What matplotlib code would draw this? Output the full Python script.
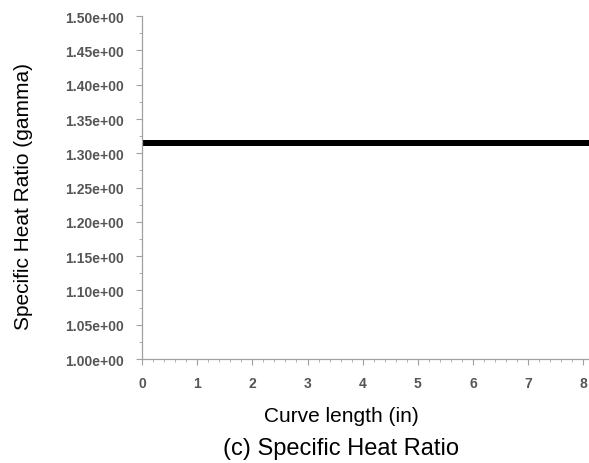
import matplotlib
matplotlib.use('Agg')
import matplotlib.pyplot as plt
import numpy as np
from matplotlib.ticker import FormatStrFormatter, MultipleLocator, AutoMinorLocator

plt.rcParams['font.family'] = ['Liberation Sans', 'DejaVu Sans']

# sampled stations along the curve and the (constant) specific heat ratio
curve_length = np.arange(0.0, 8.15, 0.05)
gamma_value = 1.315
gamma = [gamma_value] * len(curve_length)

fig = plt.figure(figsize=(5.89, 4.64), dpi=100)
ax = fig.add_axes([0.241, 0.224, 0.759, 0.739])

ax.plot(curve_length, gamma, color='black', lw=3.0, marker='s', ms=4.2,
        markeredgewidth=0)

ax.set_xlim(0, 8.1)
ax.set_ylim(1.0, 1.5)
ax.xaxis.set_major_locator(MultipleLocator(1))
ax.xaxis.set_minor_locator(AutoMinorLocator(5))
ax.yaxis.set_major_locator(MultipleLocator(0.05))
ax.yaxis.set_minor_locator(AutoMinorLocator(2))
ax.yaxis.set_major_formatter(FormatStrFormatter('%.2e'))

grey = '#a0a0a0'
for side in ['top', 'right']:
    ax.spines[side].set_visible(False)
for side in ['left', 'bottom']:
    ax.spines[side].set_color(grey)
    ax.spines[side].set_linewidth(0.9)

ax.tick_params(which='major', direction='out', length=4, color=grey,
               labelsize=10, labelcolor='#555555')
ax.tick_params(axis='y', which='major', pad=9)
ax.tick_params(axis='x', which='major', pad=8)
ax.tick_params(which='minor', direction='out', length=2, color=grey)
for lab in ax.get_xticklabels() + ax.get_yticklabels():
    lab.set_fontweight('bold')

ax.set_ylabel('Specific Heat Ratio (gamma)', fontsize=15, va='center')
ax.yaxis.set_label_coords(-0.266, 0.478)
ax.set_xlabel('Curve length (in)', fontsize=15, va='top')
ax.xaxis.set_label_coords(0.445, -0.137)
fig.text(341 / 589, 0.019, '(c) Specific Heat Ratio', fontsize=17,
         ha='center', va='baseline')

fig.savefig('out.png', dpi=100)
